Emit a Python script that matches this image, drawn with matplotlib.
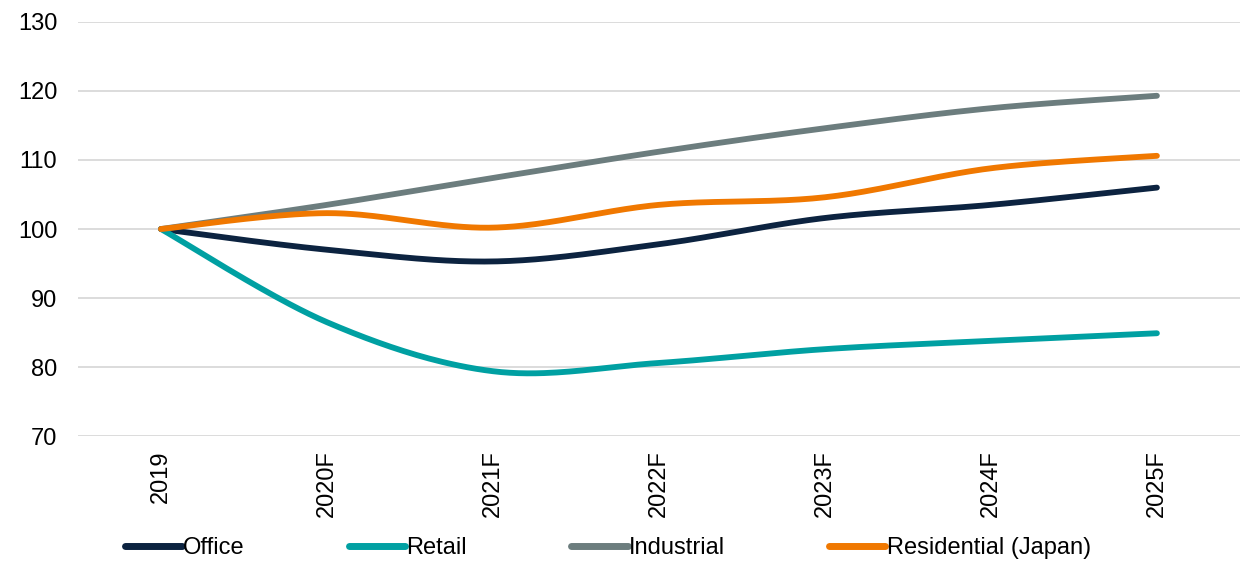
import numpy as np
import matplotlib.pyplot as plt

# Index values (2019 = 100)
years = ["2019", "2020F", "2021F", "2022F", "2023F", "2024F", "2025F"]
office = [100, 97.0, 95.3, 97.8, 101.6, 103.5, 106.0]
retail = [100, 86.5, 79.4, 80.6, 82.6, 83.8, 84.9]
industrial = [100, 103.5, 107.4, 111.2, 114.6, 117.5, 119.3]
residential = [100, 102.3, 100.2, 103.5, 104.6, 108.8, 110.6]

series = [
    ("Office", office, "#0c2340"),
    ("Retail", retail, "#00a0a2"),
    ("Industrial", industrial, "#6c7d7e"),
    ("Residential (Japan)", residential, "#f07800"),
]


def smooth(x, y, n=40):
    # Excel-style smoothed line: Bezier segments with Catmull-Rom control points
    x = np.asarray(x, float)
    y = np.asarray(y, float)
    px = np.concatenate([[x[0]], x, [x[-1]]])
    py = np.concatenate([[y[0]], y, [y[-1]]])
    xs, ys = [], []
    t = np.linspace(0, 1, n)
    for i in range(len(x) - 1):
        p0 = np.array([px[i + 1], py[i + 1]])
        p3 = np.array([px[i + 2], py[i + 2]])
        c1 = p0 + (np.array([px[i + 2], py[i + 2]]) - np.array([px[i], py[i]])) / 6
        c2 = p3 - (np.array([px[i + 3], py[i + 3]]) - np.array([px[i + 1], py[i + 1]])) / 6
        b = ((1 - t) ** 3)[:, None] * p0 + (3 * (1 - t) ** 2 * t)[:, None] * c1 \
            + (3 * (1 - t) * t ** 2)[:, None] * c2 + (t ** 3)[:, None] * p3
        xs.extend(b[:, 0])
        ys.extend(b[:, 1])
    return xs, ys


plt.rcParams["font.family"] = ["Liberation Sans", "DejaVu Sans"]
plt.rcParams["font.size"] = 17

fig = plt.figure(figsize=(12.44, 5.62), dpi=100)
ax = fig.add_axes([0.0627, 0.224, 0.934, 0.737])

x = np.arange(len(years))
for name, vals, color in series:
    sx, sy = smooth(x, vals)
    ax.plot(sx, sy, color=color, lw=4.2, label=name, solid_capstyle="round")

ax.set_ylim(70, 130)
ax.set_yticks(range(70, 131, 10))
ax.set_xlim(-0.5, len(years) - 0.5)
ax.set_xticks(x)
ax.set_xticklabels(years, rotation=90, va="top")
ax.grid(axis="y", color="#d9d9d9", lw=1.3)
ax.set_axisbelow(True)
for s in ax.spines.values():
    s.set_visible(False)
ax.tick_params(axis="y", length=0, pad=15)
ax.tick_params(axis="x", length=0, pad=10)

leg = fig.legend(loc="center", bbox_to_anchor=(608 / 1244, 1 - 548 / 562), ncol=4,
                 frameon=False, handlelength=2.4, handletextpad=0.05, columnspacing=4.4,
                 fontsize=17)
for h in leg.get_lines():
    h.set_linewidth(5)

fig.savefig("out.png", dpi=100)
